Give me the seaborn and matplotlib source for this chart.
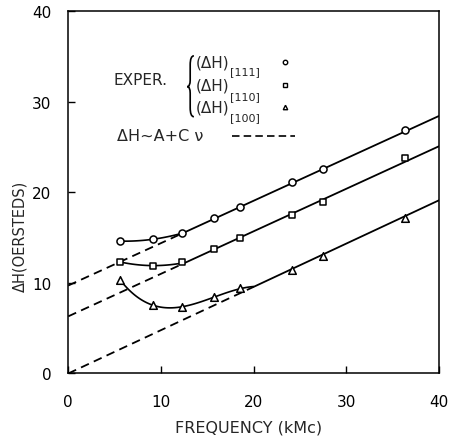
import numpy as np
import pandas as pd
import matplotlib
matplotlib.use("Agg")
import matplotlib.pyplot as plt
from matplotlib.path import Path
from matplotlib.patches import PathPatch
import seaborn as sns

# valores
freq = [5.6, 9.1, 12.3, 15.7, 18.5, 24.1, 27.5, 36.3]
dh_111 = [14.6, 14.8, 15.5, 17.2, 18.4, 21.1, 22.5, 26.9]
dh_110 = [12.3, 11.9, 12.3, 13.7, 14.9, 17.5, 18.9, 23.8]
dh_100 = [10.3, 7.6, 7.3, 8.4, 9.4, 11.4, 13.0, 17.2]
series_names = ["[111]", "[110]", "[100]"]
# ajuste lineal dH ~ A + C*nu
intercept_a = [9.7, 6.3, 0.0]
slope_c = [0.4675, 0.469, 0.4775]
knee_freq = [12.3, 12.3, 20.0]
x_ticks = [0, 10, 20, 30, 40]
y_ticks = [0, 10, 20, 30, 40]

markers = ["o", "s", "^"]
marker_sizes = [26, 22, 30]

sns.set_theme(style="ticks")
plt.rcParams["font.family"] = ["DejaVu Sans"]

fig = plt.figure(figsize=(4.52, 4.39), dpi=100)
ax = fig.add_axes([0.151, 0.147, 0.820, 0.826])

x_max = x_ticks[-1]
all_dh = [dh_111, dh_110, dh_100]
for i, dh in enumerate(all_dh):
    a, c, knee = intercept_a[i], slope_c[i], knee_freq[i]
    f = np.array(freq)
    y = np.array(dh)
    # curva suave para frecuencias bajas, unida a la recta en el codo
    low = f <= knee
    fx = np.append(f[low], knee)
    fy = np.append(y[low], a + c * knee)
    coef = np.polyfit(fx, fy, min(3, len(fx) - 2))
    xc = np.linspace(f[0], knee, 80)
    curve = pd.DataFrame({"x": xc, "y": np.polyval(coef, xc)})
    sns.lineplot(data=curve, x="x", y="y", ax=ax, color="black", lw=1.2,
                 sort=False, estimator=None)
    xs = np.array([knee, x_max])
    solid = pd.DataFrame({"x": xs, "y": a + c * xs})
    sns.lineplot(data=solid, x="x", y="y", ax=ax, color="black", lw=1.3,
                 sort=False, estimator=None)
    xd = np.array([0, knee])
    dashed = pd.DataFrame({"x": xd, "y": a + c * xd})
    sns.lineplot(data=dashed, x="x", y="y", ax=ax, color="black", lw=1.3,
                 linestyle=(0, (4.8, 3)), sort=False, estimator=None)
    pts = pd.DataFrame({"x": freq, "y": dh})
    sns.scatterplot(data=pts, x="x", y="y", ax=ax, marker=markers[i],
                    s=marker_sizes[i], facecolor="white", edgecolor="black",
                    linewidth=1.1, zorder=5)

ax.set_xlim(x_ticks[0], x_ticks[-1])
ax.set_ylim(y_ticks[0], y_ticks[-1])
ax.set_xticks(x_ticks)
ax.set_yticks(y_ticks)
ax.tick_params(direction="in", length=5, width=1, colors="black", labelsize=11)
ax.tick_params(axis="x", pad=15)
ax.tick_params(axis="y", pad=12)
for sp in ax.spines.values():
    sp.set_visible(True)
    sp.set_linewidth(1.1)
    sp.set_color("black")

ax.set_xlabel("FREQUENCY (kMc)", fontsize=11.5)
ax.set_ylabel("ΔH(OERSTEDS)", fontsize=10.5)
ax.xaxis.set_label_coords(0.487, -0.128)
ax.yaxis.set_label_coords(-0.111, 0.38)

# leyenda dibujada a mano como en el original
ax.text(0.121, 0.812, "EXPER.", transform=ax.transAxes, fontsize=11,
        ha="left", va="center")

# llave
bx_tip, bx_mid, bx_end = 0.321, 0.329, 0.339
by_top, by_mid, by_bot = 0.876, 0.791, 0.708
verts = [
    (bx_end, by_top), (bx_mid, by_top), (bx_mid, by_top - 0.025),
    (bx_mid, by_mid + 0.018),
    (bx_mid, by_mid), (bx_tip, by_mid),
    (bx_mid, by_mid), (bx_mid, by_mid - 0.018),
    (bx_mid, by_bot + 0.025),
    (bx_mid, by_bot), (bx_end, by_bot),
]
codes = [Path.MOVETO, Path.CURVE3, Path.CURVE3, Path.LINETO,
         Path.CURVE3, Path.CURVE3, Path.CURVE3, Path.CURVE3,
         Path.LINETO, Path.CURVE3, Path.CURVE3]
ax.add_patch(PathPatch(Path(verts, codes), transform=ax.transAxes,
                       fill=False, lw=1.2, edgecolor="black"))

row_y = [0.859, 0.796, 0.735]
sub_y = [0.835, 0.766, 0.707]
for i in range(3):
    ax.text(0.343, row_y[i], "(ΔH)", transform=ax.transAxes, fontsize=11,
            ha="left", va="center")
    ax.text(0.436, sub_y[i], series_names[i], transform=ax.transAxes,
            fontsize=8, ha="left", va="center")
    ax.plot([0.585], [row_y[i]], transform=ax.transAxes, marker=markers[i],
            ms=3.2, mfc="white", mec="black", mew=1, ls="none")
ax.text(0.132, 0.655, "ΔH~A+C ν", transform=ax.transAxes, fontsize=11.5,
        ha="left", va="center")
ax.plot([0.441, 0.611], [0.656, 0.656], transform=ax.transAxes, color="black",
        lw=1.2, ls=(0, (4.5, 2.5)))

fig.savefig("out.png", dpi=100)
